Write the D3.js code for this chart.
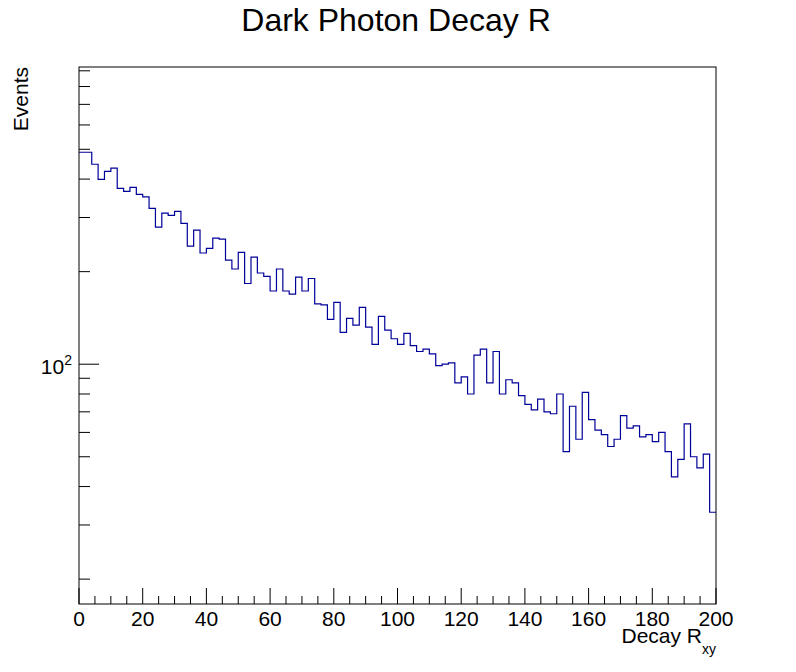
<!DOCTYPE html>
<html>
<head>
<meta charset="utf-8">
<script src="https://cdn.jsdelivr.net/npm/d3@7"></script>
<style>
  body { margin: 0; background: #fff; }
  text { font-family: "Liberation Sans", Arial, sans-serif; fill: #000; }
</style>
</head>
<body>
<div id="chart"></div>
<script>
var width  = 796;
var height = 672;

// histogram: 100 bins of width 2 from 0 to 200
const xMin = 0;
const binWidth = 2;
var counts = [
  489, 489, 447, 399, 424, 434, 373, 365, 376, 357,
  350, 321, 279, 310, 305, 314, 287, 242, 273, 230,
  238, 257, 255, 218, 204, 231, 183, 223, 198, 193,
  173, 204, 173, 169, 192, 173, 190, 157, 156, 140,
  159, 127, 141, 134, 153, 132, 116, 143, 129, 121,
  116, 126, 115, 110, 112, 108,  99, 100, 101,  87,
   91,  80, 107, 112,  87, 110,  80,  89,  87,  79,
   74,  71,  77,  70,  69,  80,  52,  73,  57,  81,
   66,  61,  59,  54,  57,  68,  62,  63,  58,  59,
   56,  60,  52,  43,  49,  64,  50,  46,  51,  33
];

var xTickLabels = [0, 20, 40, 60, 80, 100, 120, 140, 160, 180, 200];
var xMinorTicks = d3.range(0, 201, 5);
var yMajorTicks = [100];
var yMinorTicks = [20, 30, 40, 50, 60, 70, 80, 90, 200, 300, 400, 500, 600, 700, 800, 900];

// frame
const frameLeft = 79, frameRight = 716, frameTop = 67, frameBottom = 604;

var x = d3.scaleLinear().domain([0, 200]).range([frameLeft, frameRight]);
var y = d3.scaleLog().domain([16.6, 926]).range([frameBottom, frameTop]);

var svg = d3.select("#chart").append("svg")
    .attr("width", width)
    .attr("height", height);

svg.append("rect")
    .attr("x", 0).attr("y", 0)
    .attr("width", width).attr("height", height)
    .attr("fill", "#fff");

// ---------- histogram outline ----------
var path = d3.path();
counts.forEach(function(c, i){
  var x0 = x(xMin + i*binWidth), x1 = x(xMin + (i+1)*binWidth);
  if (i == 0) path.moveTo(x0, y(c)); else path.lineTo(x0, y(c));
  path.lineTo(x1, y(c));
});

svg.append("path")
    .attr("d", path.toString())
    .attr("fill", "none")
    .attr("stroke", "#000099")
    .attr("stroke-width", 1.2);

// ---------- frame ----------
svg.append("rect")
    .attr("x", frameLeft).attr("y", frameTop)
    .attr("width", frameRight - frameLeft)
    .attr("height", frameBottom - frameTop)
    .attr("fill", "none")
    .attr("stroke", "#000")
    .attr("stroke-width", 1);

// ---------- x ticks ----------
var gx = svg.append("g");
gx.selectAll("line.minor")
    .data(xMinorTicks)
    .enter()
  .append("line")
    .attr("x1", d => x(d)).attr("x2", d => x(d))
    .attr("y1", frameBottom)
    .attr("y2", d => frameBottom - (d % 20 == 0 ? 16 : 8))
    .attr("stroke", "#000")
    .attr("stroke-width", 1);

gx.selectAll("text")
    .data(xTickLabels)
    .enter()
  .append("text")
    .attr("x", d => x(d))
    .attr("y", 626)
    .attr("text-anchor", "middle")
    .style("font-size", "21px")
    .text(d => d);

// ---------- y ticks ----------
var gy = svg.append("g");
gy.selectAll("line.minor")
    .data(yMinorTicks)
    .enter()
  .append("line")
    .attr("x1", frameLeft).attr("x2", frameLeft + 11)
    .attr("y1", d => y(d)).attr("y2", d => y(d))
    .attr("stroke", "#000");

gy.selectAll("line.major")
    .data(yMajorTicks)
    .enter()
  .append("line")
    .attr("x1", frameLeft).attr("x2", frameLeft + 20)
    .attr("y1", d => y(d)).attr("y2", d => y(d))
    .attr("stroke", "#000");

var yLab = gy.selectAll("text")
    .data(yMajorTicks)
    .enter()
  .append("text")
    .attr("x", 72)
    .attr("y", d => y(d) + 10)
    .attr("text-anchor", "end")
    .style("font-size", "21px");
yLab.append("tspan").text("10");
yLab.append("tspan")
    .attr("dy", -9)
    .style("font-size", "14px")
    .text("2");

// ---------- titles ----------
svg.append("text")
    .attr("x", 396)
    .attr("y", 31)
    .attr("text-anchor", "middle")
    .style("font-size", "32px")
    .text("Dark Photon Decay R");

var xt = svg.append("text")
    .attr("x", frameRight)
    .attr("y", 643)
    .attr("text-anchor", "end")
    .style("font-size", "21px");
xt.append("tspan").text("Decay R");
xt.append("tspan")
    .attr("dy", 11)
    .style("font-size", "14px")
    .text("xy");

svg.append("text")
    .attr("transform", "translate(28," + frameTop + ") rotate(-90)")
    .attr("text-anchor", "end")
    .style("font-size", "21px")
    .text("Events");
</script>
</body>
</html>
